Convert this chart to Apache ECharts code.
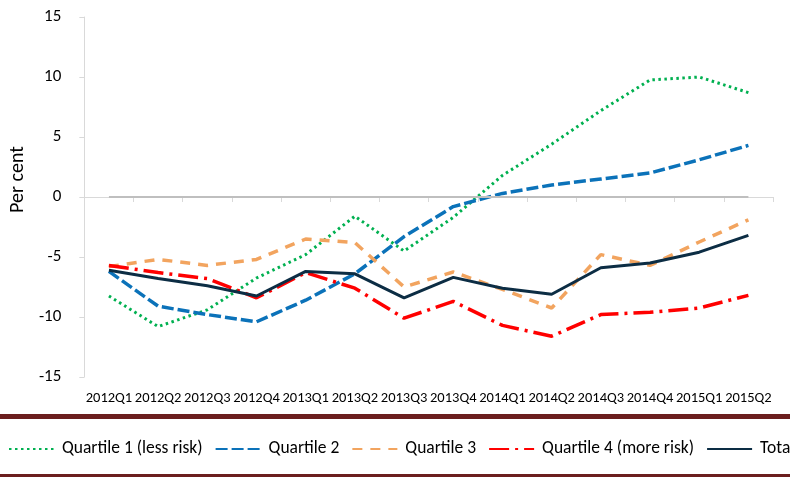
<!DOCTYPE html>
<html>
<head>
<meta charset="utf-8">
<script src="https://cdn.jsdelivr.net/npm/echarts@6/dist/echarts.min.js"></script>
<style>html,body{margin:0;padding:0;background:#fff}#chart{width:790px;height:477px}</style>
</head>
<body>
<div id="chart"></div>
<script>
var categories = ['2012Q1','2012Q2','2012Q3','2012Q4','2013Q1','2013Q2','2013Q3','2013Q4','2014Q1','2014Q2','2014Q3','2014Q4','2015Q1','2015Q2'];
var quartile1 = [-8.25, -10.8, -9.4, -6.75, -4.8, -1.6, -4.5, -1.7, 1.8, 4.4, 7.2, 9.75, 10.0, 8.7];
var quartile2 = [-6.2, -9.1, -9.8, -10.4, -8.6, -6.4, -3.3, -0.8, 0.3, 1.0, 1.5, 2.0, 3.1, 4.3];
var quartile3 = [-5.8, -5.2, -5.7, -5.2, -3.5, -3.8, -7.5, -6.25, -7.7, -9.25, -4.8, -5.7, -3.75, -1.9];
var quartile4 = [-5.7, -6.3, -6.8, -8.4, -6.3, -7.6, -10.1, -8.7, -10.7, -11.6, -9.8, -9.6, -9.25, -8.2];
var total = [-6.1, -6.8, -7.4, -8.25, -6.2, -6.4, -8.4, -6.7, -7.6, -8.1, -5.9, -5.5, -4.6, -3.2];
var seriesNames = ['Quartile 1 (less risk)', 'Quartile 2', 'Quartile 3', 'Quartile 4 (more risk)', 'Total'];
var yTicks = {min: -15, max: 15, interval: 5};
var yTitle = 'Per cent';

var FONT = 'Carlito, Calibri, Lato, sans-serif';
var chart = echarts.init(document.getElementById('chart'), null, {renderer: 'canvas'});

function lineSeries(name, data, color, width, dash, z) {
  return {
    name: name, type: 'line', data: data, symbol: 'none', z: z,
    lineStyle: {color: color, width: width, type: dash, cap: 'butt'},
    itemStyle: {color: color},
    animation: false
  };
}

var series = [
  lineSeries(seriesNames[0], quartile1, '#00b050', 3, [2.5, 3.5], 3),
  lineSeries(seriesNames[1], quartile2, '#0b72b9', 3.5, [12, 4], 4),
  lineSeries(seriesNames[2], quartile3, '#f2a45f', 3.5, [10, 8], 5),
  lineSeries(seriesNames[3], quartile4, '#ff0000', 3.5, [20, 6, 3, 6], 6),
  lineSeries(seriesNames[4], total, '#0c2d44', 3, 'solid', 7)
];
series[4].markLine = {
  silent: true, symbol: 'none', animation: false,
  label: {show: false},
  lineStyle: {color: '#bfbfbf', width: 2, type: 'solid'},
  data: [[{coord: [categories[0], 0]}, {coord: [categories[categories.length - 1], 0]}]]
};

chart.setOption({
  animation: false,
  backgroundColor: '#ffffff',
  textStyle: {fontFamily: FONT},
  grid: {left: 71, right: 17, top: 17, bottom: 100, containLabel: false},
  xAxis: {
    type: 'category', data: categories, boundaryGap: true,
    axisLine: {lineStyle: {color: '#d9d9d9', width: 1}},
    axisTick: {show: true, length: 5, lineStyle: {color: '#d9d9d9'}},
    axisLabel: {color: '#000', fontSize: 14.5, fontFamily: FONT, margin: 14, interval: 0},
    splitLine: {show: false}
  },
  yAxis: {
    type: 'value', min: yTicks.min, max: yTicks.max, interval: yTicks.interval,
    name: yTitle, nameLocation: 'middle', nameGap: 35, nameRotate: 90,
    nameTextStyle: {color: '#000', fontSize: 20, fontFamily: FONT, padding: [0, 0, 0, 35]},
    axisLine: {show: true, lineStyle: {color: '#d9d9d9', width: 1}},
    axisTick: {show: true, length: 5, lineStyle: {color: '#d9d9d9'}},
    axisLabel: {color: '#000', fontSize: 17, fontFamily: FONT, margin: 23},
    splitLine: {show: false}
  },
  legend: {
    data: seriesNames,
    left: 8, top: 440, width: 1200, orient: 'horizontal', padding: 0,
    itemWidth: 45, itemHeight: 20, itemGap: 12,
    itemStyle: {opacity: 0, color: 'transparent', borderWidth: 0},
    textStyle: {color: '#000', fontSize: 17.5, fontFamily: FONT, padding: [0, 0, 0, 3]},
    selectedMode: false
  },
  graphic: [
    {type: 'rect', shape: {x: 0, y: 414, width: 790, height: 5}, style: {fill: '#6b1e1e'}, silent: true},
    {type: 'rect', shape: {x: 0, y: 474, width: 790, height: 3}, style: {fill: '#6b1e1e'}, silent: true}
  ],
  series: series
});
</script>
</body>
</html>
